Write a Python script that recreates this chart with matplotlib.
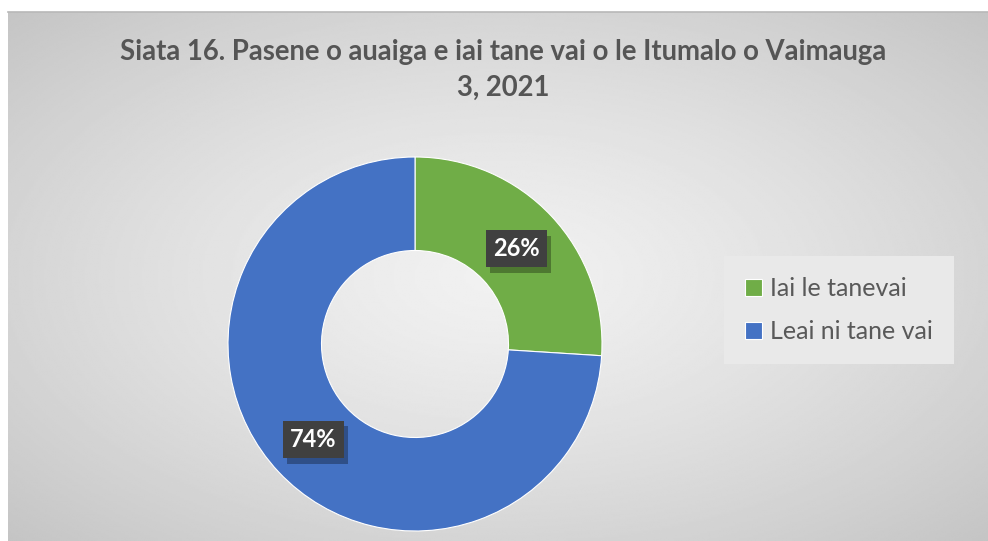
import matplotlib.pyplot as plt
import matplotlib.patheffects as pe
import numpy as np

# Data
labels = ['Iai le tanevai', 'Leai ni tane vai']
values = [26, 74]
colors = ['#70ad47', '#4472c4']
title = 'Siata 16. Pasene o auaiga e iai tane vai o le Itumalo o Vaimauga\n3, 2021'

W, H = 988, 541
plt.rcParams['font.family'] = ['Lato', 'DejaVu Sans']

fig = plt.figure(figsize=(W / 100, H / 100), dpi=100)
fig.patch.set_facecolor('white')

# radial gray gradient behind the chart area
bg = fig.add_axes([8 / W, 0, 1 - 8 / W, 1 - 12 / H])
bg.set_axis_off()
yy, xx = np.mgrid[-1:1:300j, -1:1:500j]
rr = np.sqrt(xx ** 2 + yy ** 2) / np.sqrt(2)
light, dark = 0.945, 0.77
shade = light - (light - dark) * rr ** 1.3
bg.imshow(shade, cmap='gray', vmin=0, vmax=1, aspect='auto',
          extent=[0, 1, 0, 1], interpolation='bilinear')
bg.plot([0, 1], [1, 1], color='#b8b8b8', lw=1.2, transform=bg.transAxes, clip_on=False)
bg.set_xlim(0, 1)
bg.set_ylim(0, 1)

# donut
cx, cy, r = 415, 344, 187
ax = fig.add_axes([(cx - r) / W, (H - cy - r) / H, 2 * r / W, 2 * r / H])
wedges, _ = ax.pie(values, colors=colors, startangle=90, counterclock=False,
                   radius=1, wedgeprops=dict(width=0.5, edgecolor='white', linewidth=0.8))
ax.set_xlim(-1, 1)
ax.set_ylim(-1, 1)
ax.set_aspect('equal')
ax.set_axis_off()

# percentage labels in dark boxes with a soft shadow
start = 90
for v in values:
    mid = np.radians(start - v / 100 * 360 / 2)
    start -= v / 100 * 360
    x, y = 0.745 * np.cos(mid), 0.745 * np.sin(mid)
    t = ax.text(x, y, f'{v}%', ha='center', va='center', fontsize=17,
                fontweight='bold', color='white',
                bbox=dict(boxstyle='square,pad=0.3', fc='#404040', ec='none'))
    t.get_bbox_patch().set_path_effects(
        [pe.withSimplePatchShadow(offset=(3, -4), shadow_rgbFace='black', alpha=0.3)])

fig.text(503 / W, 1 - 70 / H, title, ha='center', va='center', fontsize=19.8,
         fontweight='bold', color='#555555', linespacing=1.45)

leg = fig.legend(wedges, labels, loc='center left',
                 bbox_to_anchor=(731 / W, 1 - 310 / H), frameon=True,
                 fontsize=18, labelcolor='#595959', handlelength=0.7,
                 handleheight=0.7, handletextpad=0.3, labelspacing=0.8,
                 borderpad=0.55, borderaxespad=0)
leg.get_frame().set_facecolor('#e9e9e9')
leg.get_frame().set_edgecolor('none')
leg.get_frame().set_alpha(1)
leg.get_frame().set_boxstyle('square')

fig.savefig('out.png', dpi=100)
